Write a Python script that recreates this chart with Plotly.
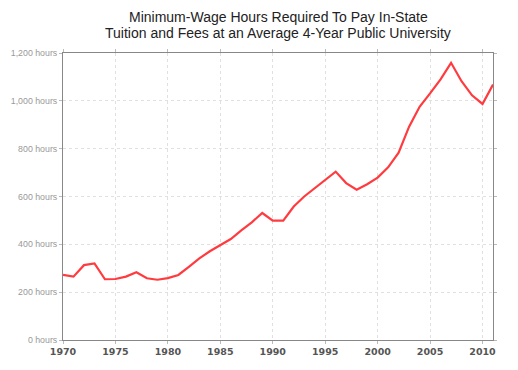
import plotly.graph_objects as go

years = list(range(1970, 2012))
hours = [272, 265, 313, 320, 254, 255, 265, 283, 258, 252,
         259, 272, 306, 341, 371, 397, 422, 458, 492, 531,
         499, 499, 558, 600, 635, 672, 704, 656, 628, 651,
         679, 722, 783, 892, 975, 1031, 1090, 1159, 1082, 1023,
         987, 1068]

x_ticks = [1970, 1975, 1980, 1985, 1990, 1995, 2000, 2005, 2010]
y_ticks = [0, 200, 400, 600, 800, 1000, 1200]
y_labels = [f"{v:,} hours" for v in y_ticks]

title_lines = ["Minimum-Wage Hours Required To Pay In-State",
               "Tuition and Fees at an Average 4-Year Public University"]

fig = go.Figure()
fig.add_trace(go.Scatter(
    x=years, y=hours, mode="lines",
    line=dict(color="#ff3b3f", width=2.2),
    hoverinfo="skip", showlegend=False,
))

# page body has an 8px margin, so the figure is drawn at (8, 8)
fig.update_layout(
    width=510, height=362,
    margin=dict(l=55, r=25, t=45, b=30, autoexpand=False),
    paper_bgcolor="white", plot_bgcolor="white",
    font=dict(family="Liberation Sans, Arial, sans-serif"),
)

for i, line in enumerate(title_lines):
    fig.add_annotation(
        text=line, xref="paper", yref="paper",
        x=0.5, xanchor="center",
        y=1.0 + (36 - 16 * i) / 287, yanchor="middle",
        showarrow=False, font=dict(size=14, color="#222"),
    )

fig.update_xaxes(
    range=[1970, 2011], tickvals=x_ticks,
    ticktext=[f"<b>{t}</b>" for t in x_ticks],
    tickfont=dict(size=9.5, color="#555", family="DejaVu Sans, sans-serif"),
    showline=True, linecolor="#888", linewidth=1, mirror="ticks",
    ticks="outside", ticklen=3, tickcolor="#bbb",
    showgrid=True, gridcolor="#e0e0e0", griddash="dot", gridwidth=1,
    zeroline=False, automargin=False,
)
fig.update_yaxes(
    range=[0, 1200], tickvals=y_ticks, ticktext=y_labels,
    tickfont=dict(size=8.8, color="#999"),
    showline=True, linecolor="#888", linewidth=1, mirror="ticks",
    ticks="outside", ticklen=3, tickcolor="#bbb",
    showgrid=True, gridcolor="#e0e0e0", griddash="dot", gridwidth=1,
    zeroline=False, automargin=False,
)

fig.write_html("out.html")
